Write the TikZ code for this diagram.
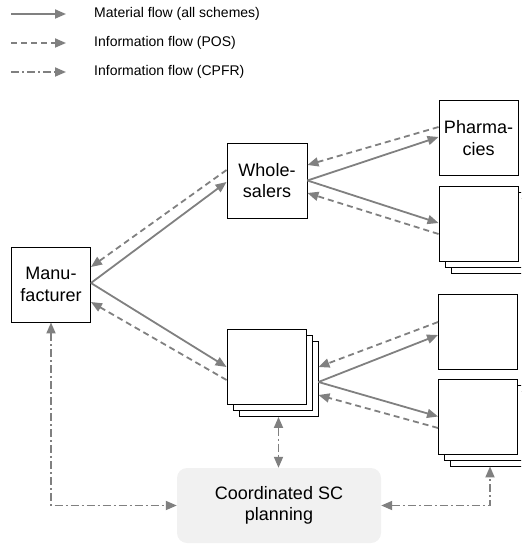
\documentclass[tikz,border=0pt]{standalone}
\usepackage{fontspec}
\setmainfont{Liberation Sans}
\usetikzlibrary{arrows.meta}
\definecolor{flowgray}{RGB}{128,128,128}
\definecolor{cscfill}{RGB}{241,241,241}
\tikzset{
  box/.style={draw=black, line width=0.9pt, fill=white, minimum width=79pt, minimum height=75pt,
    inner sep=0pt, align=center, font=\fontsize{18}{21.5}\selectfont},
  cscbox/.style={fill=cscfill, rounded corners=10pt, minimum width=204pt, minimum height=75pt,
    inner sep=0pt, align=center, font=\fontsize{18}{21.5}\selectfont},
  flowtip/.tip={Triangle[length=11pt,width=9pt]},
  matflow/.style={draw=flowgray, line width=1.8pt, -flowtip},
  posflow/.style={matflow, dash pattern=on 6pt off 4pt},
  cpfrflow/.style={draw=flowgray, line width=1.8pt, dash pattern=on 8pt off 3pt on 2pt off 3pt, flowtip-flowtip},
  cpfrleg/.style={draw=flowgray, line width=1.8pt, dash pattern=on 8pt off 3pt on 2pt off 3pt, -flowtip},
  legtext/.style={anchor=west, font=\fontsize{14}{16}\selectfont, inner sep=0pt},
}
\begin{document}
\begin{tikzpicture}[x=1pt, y=-1pt]
\clip (0,0) rectangle (521,545);
% legend
\coordinate (l1a) at (11,14); \coordinate (l1b) at (66,14);
\coordinate (l2a) at (11,43); \coordinate (l2b) at (66,43);
\coordinate (l3a) at (11,72); \coordinate (l3b) at (66,72);
\draw[matflow] (l1a) -- (l1b);
\draw[posflow] (l2a) -- (l2b);
\draw[cpfrleg] (l3a) -- (l3b);
\node[legtext] (t1) at (94,14) {Material flow (all schemes)};
\node[legtext] (t2) at (94,43) {Information flow (POS)};
\node[legtext] (t3) at (94,72) {Information flow (CPFR)};
% boxes
\node[box] (man) at (51,284.5) {Manu-\\facturer};
\node[box, minimum width=80pt] (whole) at (267,180.5) {Whole-\\salers};
\node[box] (pharm) at (478.5,138) {Pharma-\\cies};
\node[box] (sAc) at (490.5,236) {};
\node[box] (sAb) at (484.5,230) {};
\node[box] (sA) at (478.5,224) {};
\node[box] (msC) at (278.5,379) {};
\node[box] (msB) at (272.5,373) {};
\node[box] (ms) at (266.5,367) {};
\node[box] (low1) at (478,332) {};
\node[box] (lowC) at (490,428.5) {};
\node[box] (lowB) at (484,422.5) {};
\node[box] (low2) at (478,416.5) {};
\node[cscbox] (csc) at (279,505.5) {Coordinated SC\\planning};
% material flows
\draw[matflow] ([yshift=1.5pt]man.east) -- ([yshift=-1.5pt]whole.west);
\draw[matflow] ([yshift=1.5pt]man.east) -- (ms.west);
\draw[matflow] (whole.east) -- ([yshift=1pt]pharm.west);
\draw[matflow] (whole.east) -- ([yshift=1pt]sA.west);
\draw[matflow] ([yshift=-3pt]msC.east) -- ([yshift=-3pt]low1.west);
\draw[matflow] ([yshift=-3pt]msC.east) -- (low2.west);
% POS flows
\draw[posflow] ([yshift=10.5pt]whole.west) -- ([yshift=17.5pt]man.east);
\draw[posflow] ([yshift=-13pt]ms.west) -- ([yshift=-17.5pt]man.east);
\draw[posflow] ([yshift=11pt]pharm.west) -- ([yshift=15.5pt]whole.east);
\draw[posflow] ([yshift=-10pt]sA.west) -- ([yshift=-12.5pt]whole.east);
\draw[posflow] ([yshift=10pt]low1.west) -- ([yshift=12pt]msC.east);
\draw[posflow] ([yshift=-11.5pt]low2.west) -- ([yshift=-16pt]msC.east);
% CPFR flows
\draw[cpfrflow] (man.south) |- (csc.west);
\draw[cpfrflow] (msC.south) -- (msC.south |- csc.north);
\draw[cpfrflow] (csc.east) -| (lowC.south);
\end{tikzpicture}
\end{document}
